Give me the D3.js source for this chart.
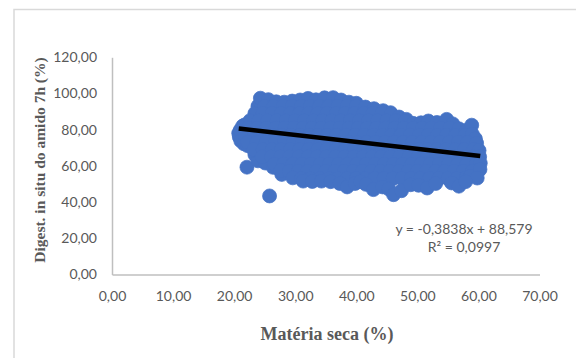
<!DOCTYPE html>
<html>
<head>
<meta charset="utf-8">
<script src="https://cdn.jsdelivr.net/npm/d3@7"></script>
<style>
  body { margin: 0; background: #fff; }
</style>
</head>
<body>
<div id="chart"></div>
<script>
// eixo X: matéria seca (%), eixo Y: digestibilidade in situ do amido 7h (%)
const xTicks = [0, 10, 20, 30, 40, 50, 60, 70];
const yTicks = [0, 20, 40, 60, 80, 100, 120];

const pontos = [
  // borda esquerda e pontos isolados
  [20.75, 78.0], [20.85, 76.0], [21.0, 79.8], [21.4, 82.0], [21.7, 82.6], [21.1, 73.8], [21.6, 72.2], [22.2, 71.2],
  [22.1, 59.3], [23.4, 66.2], [23.9, 62.8], [25.1, 61.6], [26.4, 59.2], [27.8, 55.3], [23.9, 93.0], [25.8, 43.4],
  // ~97
  [24.3, 97.4], [25.6, 96.6], [26.9, 95.4], [28.2, 95.2], [29.5, 95.8], [30.8, 96.4], [32.1, 97.3], [33.4, 96.5],
  [34.8, 97.6], [36.2, 97.7], [37.5, 96.4], [38.8, 95.2], [40.0, 94.6],
  // ~93
  [25.0, 93], [26.5, 93], [28.0, 93], [29.5, 93], [31.0, 93], [32.5, 93], [34.0, 93], [35.5, 93], [37.0, 93],
  [38.5, 93], [40.0, 93], [41.5, 92.5], [42.9, 91.6], [44.4, 90.5], [45.6, 89.4],
  // ~89
  [23.4, 89], [24.7, 89], [26.2, 89], [27.7, 89], [29.2, 89], [30.7, 89], [32.2, 89], [33.7, 89], [35.2, 89],
  [36.7, 89], [38.2, 89], [39.7, 89], [41.2, 89], [42.7, 89], [44.2, 89], [45.7, 88.5], [47.0, 87.0], [48.2, 85.7],
  // ~85
  [22.6, 85], [24.0, 85], [25.5, 85], [27.0, 85], [28.5, 85], [30.0, 85], [31.5, 85], [33.0, 85], [34.5, 85],
  [36.0, 85], [37.5, 85], [39.0, 85], [40.5, 85], [42.0, 85], [43.5, 85], [45.0, 85], [46.5, 85], [48.0, 84.5],
  [49.3, 83.5], [50.6, 83.8], [51.8, 84.8], [53.2, 84.0], [54.8, 85.7], [55.8, 83.2],
  // ~81
  [22.3, 81], [23.8, 81], [25.3, 81], [26.8, 81], [28.3, 81], [29.8, 81], [31.3, 81], [32.8, 81], [34.3, 81],
  [35.8, 81], [37.3, 81], [38.8, 81], [40.3, 81], [41.8, 81], [43.3, 81], [44.8, 81], [46.3, 81], [47.8, 81],
  [49.3, 81], [50.8, 81], [52.3, 81], [53.8, 81], [55.3, 81], [56.8, 80.5], [58.1, 79.7], [58.9, 82.5],
  // ~77
  [21.8, 77], [23.3, 77], [24.8, 77], [26.3, 77], [27.8, 77], [29.3, 77], [30.8, 77], [32.3, 77], [33.8, 77],
  [35.3, 77], [36.8, 77], [38.3, 77], [39.8, 77], [41.3, 77], [42.8, 77], [44.3, 77], [45.8, 77], [47.3, 77],
  [48.8, 77], [50.3, 77], [51.8, 77], [53.3, 77], [54.8, 77], [56.3, 77], [57.8, 77], [59.0, 77.5], [59.5, 75.0],
  // ~73
  [22.2, 73], [23.7, 73], [25.2, 73], [26.7, 73], [28.2, 73], [29.7, 73], [31.2, 73], [32.7, 73], [34.2, 73],
  [35.7, 73], [37.2, 73], [38.7, 73], [40.2, 73], [41.7, 73], [43.2, 73], [44.7, 73], [46.2, 73], [47.7, 73],
  [49.2, 73], [50.7, 73], [52.2, 73], [53.7, 73], [55.2, 73], [56.7, 73], [58.2, 73], [59.7, 72.5],
  // ~69
  [23.2, 69], [24.7, 69], [26.2, 69], [27.7, 69], [29.2, 69], [30.7, 69], [32.2, 69], [33.7, 69], [35.2, 69],
  [36.7, 69], [38.2, 69], [39.7, 69], [41.2, 69], [42.7, 69], [44.2, 69], [45.7, 69], [47.2, 69], [48.7, 69],
  [50.2, 69], [51.7, 69], [53.2, 69], [54.7, 69], [56.2, 69], [57.7, 69], [59.2, 69], [60.1, 68.5],
  // ~65
  [24.6, 65], [26.1, 65], [27.6, 65], [29.1, 65], [30.6, 65], [32.1, 65], [33.6, 65], [35.1, 65], [36.6, 65],
  [38.1, 65], [39.6, 65], [41.1, 65], [42.6, 65], [44.1, 65], [45.6, 65], [47.1, 65], [48.6, 65], [50.1, 65],
  [51.6, 65], [53.1, 65], [54.6, 65], [56.1, 65], [57.6, 65], [59.1, 65], [60.2, 65],
  // ~61
  [26.6, 61], [28.1, 61], [29.6, 61], [31.1, 61], [32.6, 61], [34.1, 61], [35.6, 61], [37.1, 61], [38.6, 61],
  [40.1, 61], [41.6, 61], [43.1, 61], [44.6, 61], [46.1, 61], [47.6, 61], [49.1, 61], [50.6, 61], [52.1, 61],
  [53.6, 61], [55.1, 61], [56.6, 61], [58.1, 61], [59.6, 61], [60.3, 61.5],
  // ~57
  [27.6, 57.4], [29.0, 57], [30.5, 57], [32.0, 57], [33.5, 57], [35.0, 57], [36.5, 57], [38.0, 57], [39.5, 57],
  [41.0, 57], [42.5, 57], [44.0, 57], [45.5, 57], [47.0, 57], [48.5, 57], [50.0, 57], [51.5, 57], [53.0, 57],
  [54.5, 57], [56.0, 57], [57.5, 57], [59.0, 57], [60.25, 58.0],
  // ~53
  [29.6, 53.4], [31.0, 53], [32.5, 53], [34.0, 53], [35.5, 53], [37.0, 53], [38.5, 53], [40.0, 53], [41.5, 53],
  [43.0, 53], [44.5, 53], [46.0, 53], [47.5, 53], [49.0, 53], [50.5, 53], [52.0, 53], [53.5, 53], [55.0, 53],
  [56.5, 53], [58.0, 53.5], [58.7, 54.3], [59.8, 53.3],
  // borda inferior
  [31.3, 51.6], [32.8, 51.4], [34.3, 51.6], [35.8, 51.3], [37.3, 50.3], [38.5, 48.4], [39.8, 50.3], [40.7, 51.3],
  [41.6, 49.8], [42.8, 46.9], [44.3, 48.4], [45.3, 47.3], [46.1, 44.1], [47.4, 46.3], [48.9, 49.6], [50.2, 49.3],
  [51.6, 47.8], [53.0, 50.3], [55.6, 50.6], [56.8, 48.8], [57.9, 51.3]
];

// linha de tendência (regressão linear mostrada no gráfico)
const trendSlope = -0.3838;
const trendIntercept = 88.579;
const eqLines = ["y = -0,3838x + 88,579", "R\u00b2 = 0,0997"];

const width = 576, height = 358;
const textColor = "#595959";
const axisColor = "#bfbfbf";

const svg = d3.select("#chart").append("svg")
  .attr("width", width)
  .attr("height", height);

// moldura da área do gráfico
svg.append("rect")
  .attr("x", 14).attr("y", 9.5)
  .attr("width", 700).attr("height", 500)
  .attr("fill", "none")
  .attr("stroke", "#d9d9d9")
  .attr("stroke-width", 1.5);

const x = d3.scaleLinear().domain([0, 70]).range([112, 539.5]);
const y = d3.scaleLinear().domain([0, 120]).range([274.5, 57.3]);

const ptBR = d3.formatLocale({ decimal: ",", thousands: ".", grouping: [3], currency: ["R$", ""] });
const fmt = ptBR.format(".2f");

const gx = svg.append("g")
  .attr("transform", `translate(0,${y(0)})`)
  .call(d3.axisBottom(x).tickValues(xTicks).tickFormat(fmt).tickSize(0).tickPadding(16.5));

const gy = svg.append("g")
  .attr("transform", `translate(${x(0)},0)`)
  .call(d3.axisLeft(y).tickValues(yTicks).tickFormat(fmt).tickSize(0).tickPadding(15));

[gx, gy].forEach(g => {
  g.select(".domain").attr("stroke", axisColor).attr("stroke-width", 1.5);
  g.selectAll("text")
    .attr("fill", textColor)
    .style("font-family", "Lato, 'Open Sans', sans-serif")
    .style("font-size", "14px");
});

// nuvem de pontos
svg.append("g")
  .selectAll("circle")
  .data(pontos)
  .join("circle")
    .attr("cx", d => x(d[0]))
    .attr("cy", d => y(d[1]))
    .attr("r", 7)
    .attr("fill", "#4472c4")
    .attr("stroke", "#4472c4")
    .attr("stroke-width", 0.75);

// tendência entre o menor e o maior x
const xExt = d3.extent(pontos, d => d[0]);
svg.append("line")
  .attr("x1", x(xExt[0])).attr("y1", y(trendSlope * xExt[0] + trendIntercept))
  .attr("x2", x(xExt[1])).attr("y2", y(trendSlope * xExt[1] + trendIntercept))
  .attr("stroke", "#000")
  .attr("stroke-width", 4.5);

// equação
svg.append("g")
  .selectAll("text")
  .data(eqLines)
  .join("text")
    .attr("x", 464)
    .attr("y", (d, i) => 234 + i * 17.5)
    .attr("text-anchor", "middle")
    .attr("fill", textColor)
    .style("font-family", "Lato, 'Open Sans', sans-serif")
    .style("font-size", "14px")
    .text(d => d);

// títulos dos eixos
svg.append("text")
  .attr("x", 327).attr("y", 340)
  .attr("text-anchor", "middle")
  .attr("fill", textColor)
  .style("font-family", "'Liberation Serif', 'Times New Roman', serif")
  .style("font-weight", "bold")
  .style("font-size", "18px")
  .text("Matéria seca (%)");

svg.append("text")
  .attr("transform", "translate(45,160) rotate(-90)")
  .attr("text-anchor", "middle")
  .attr("fill", textColor)
  .style("font-family", "'Liberation Serif', 'Times New Roman', serif")
  .style("font-weight", "bold")
  .style("font-size", "15.5px")
  .text("Digest. in situ do amido 7h (%)");
</script>
</body>
</html>
